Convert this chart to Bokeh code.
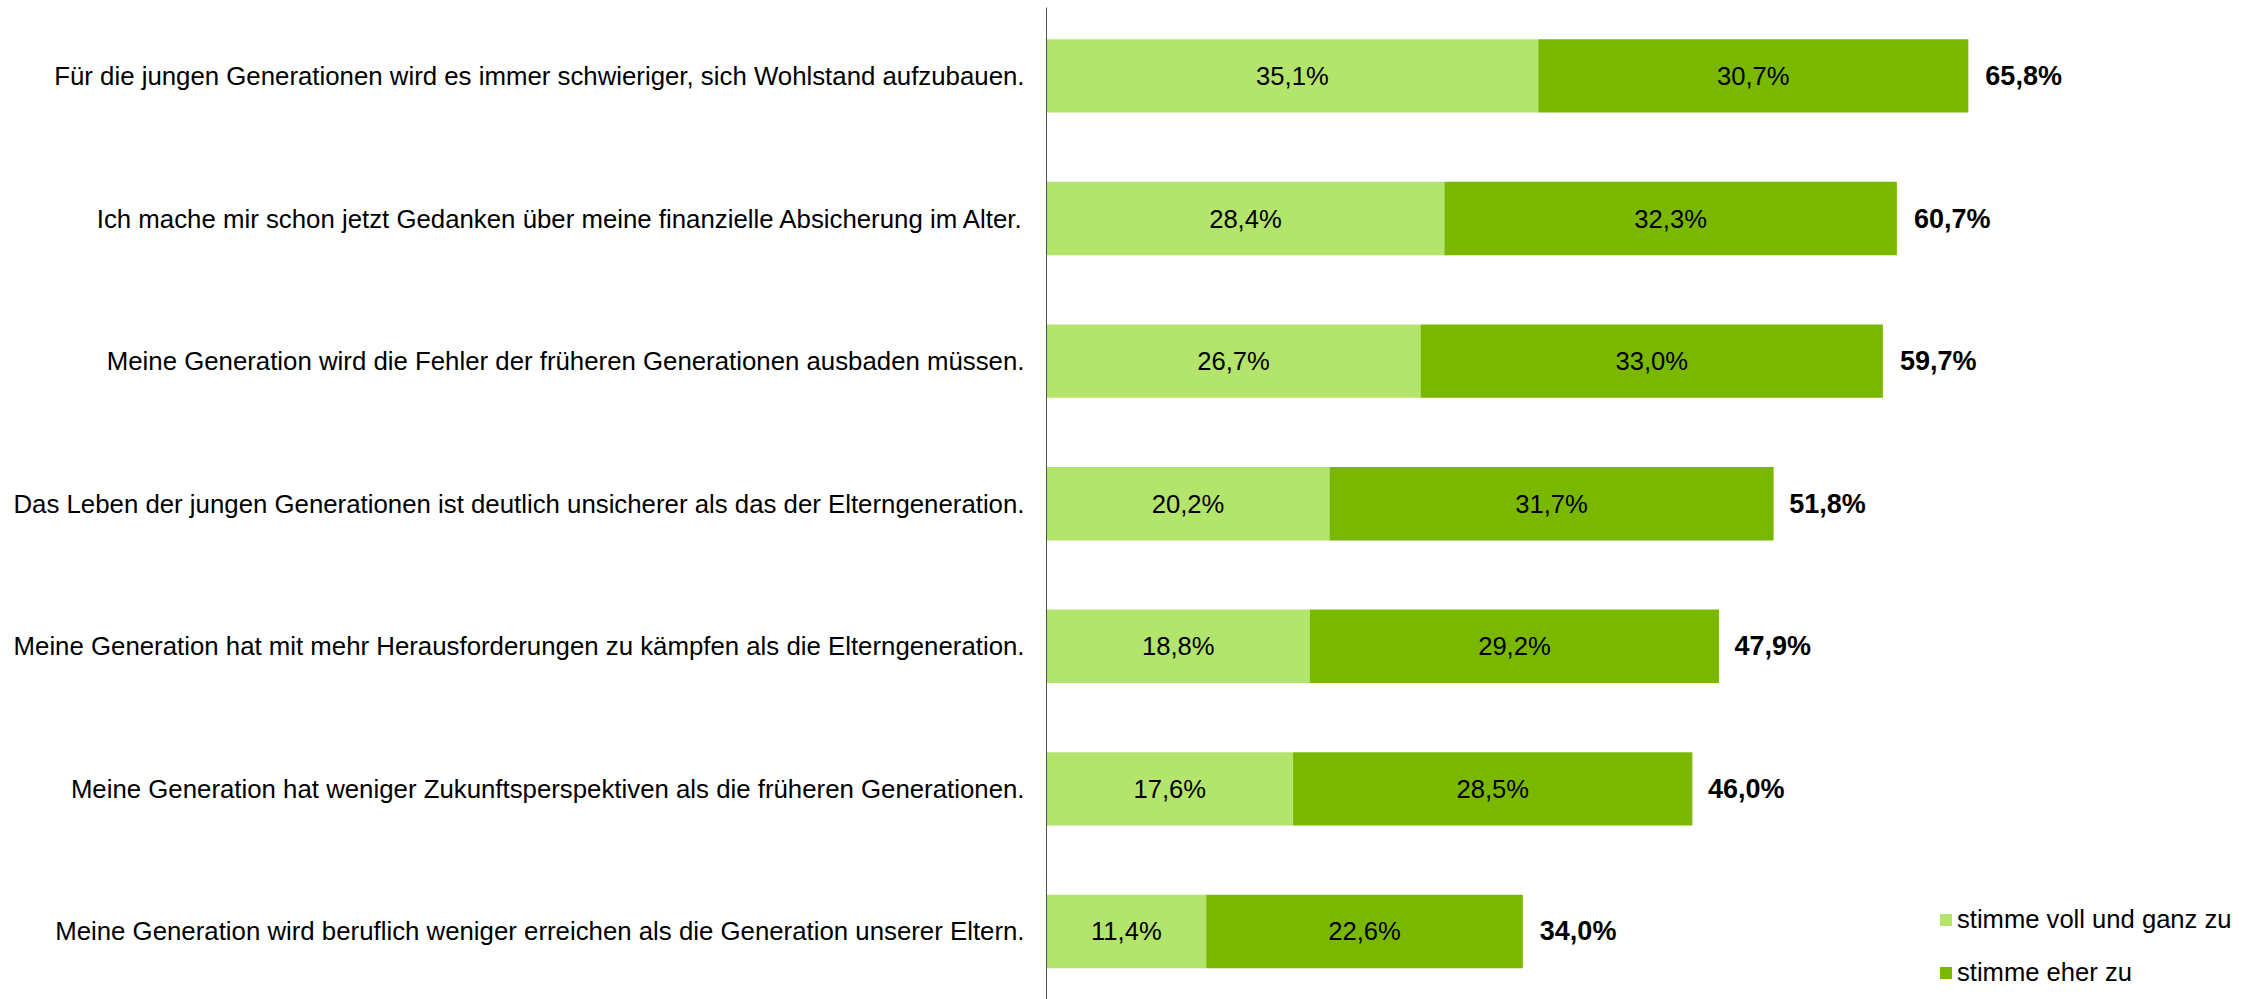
from bokeh.plotting import figure
from bokeh.models import ColumnDataSource, Range1d, FixedTicker, Legend, LegendItem
from bokeh.core.properties import value
from bokeh.embed import file_html
from bokeh.resources import INLINE

categories = [
    "Für die jungen Generationen wird es immer schwieriger, sich Wohlstand aufzubauen.",
    "Ich mache mir schon jetzt Gedanken über meine finanzielle Absicherung im Alter.",
    "Meine Generation wird die Fehler der früheren Generationen ausbaden müssen.",
    "Das Leben der jungen Generationen ist deutlich unsicherer als das der Elterngeneration.",
    "Meine Generation hat mit mehr Herausforderungen zu kämpfen als die Elterngeneration.",
    "Meine Generation hat weniger Zukunftsperspektiven als die früheren Generationen.",
    "Meine Generation wird beruflich weniger erreichen als die Generation unserer Eltern.",
]
voll_und_ganz = [35.1, 28.4, 26.7, 20.2, 18.8, 17.6, 11.4]
eher = [30.7, 32.3, 33.0, 31.7, 29.2, 28.5, 22.6]
totals = [65.8, 60.7, 59.7, 51.8, 47.9, 46.0, 34.0]
series_names = ["stimme voll und ganz zu", "stimme eher zu"]

LIGHT = "#B3E46B"
DARK = "#7AB800"
FONT = "Liberation Sans"
FS = "25.6px"

def fmt(v):
    return f"{v:.1f}".replace(".", ",") + "%"

n = len(categories)
ys = [n - 1 - i for i in range(n)]

src = ColumnDataSource(dict(
    y=ys,
    a_end=voll_und_ganz,
    b_end=[a + b for a, b in zip(voll_und_ganz, eher)],
    zero=[0] * n,
    a_mid=[a / 2 for a in voll_und_ganz],
    b_mid=[a + b / 2 for a, b in zip(voll_und_ganz, eher)],
    a_lbl=[fmt(v) for v in voll_und_ganz],
    b_lbl=[fmt(v) for v in eher],
    tot=totals,
    tot_lbl=[fmt(v) for v in totals],
))

W, H = 2243, 999
p = figure(width=W, height=H, output_backend="svg", toolbar_location=None,
           x_range=Range1d(0, 85.44), y_range=Range1d(-0.4769, 6.4797),
           min_border_left=1046, min_border_right=0, min_border_top=7, min_border_bottom=0)
p.outline_line_color = None
p.xgrid.visible = False
p.ygrid.visible = False
p.xaxis.visible = False

p.yaxis.ticker = FixedTicker(ticks=ys)
p.yaxis.major_label_overrides = {y: c for y, c in zip(ys, categories)}
p.yaxis.major_tick_line_color = None
p.yaxis.minor_tick_line_color = None
p.yaxis.major_tick_out = 0
p.yaxis.major_label_standoff = 22
p.yaxis.axis_line_color = "#505050"
p.yaxis.axis_line_width = 1
p.yaxis.major_label_text_font = FONT
p.yaxis.major_label_text_font_size = "25.8px"
p.yaxis.major_label_text_color = "#000000"

bh = 0.515
r1 = p.hbar(y="y", left="zero", right="a_end", height=bh, source=src, fill_color=LIGHT, line_color=None)
r2 = p.hbar(y="y", left="a_end", right="b_end", height=bh, source=src, fill_color=DARK, line_color=None)

p.text(x="a_mid", y="y", text="a_lbl", source=src, text_align="center", text_baseline="middle",
       text_font=value(FONT), text_font_size=FS, text_color="#000000")
p.text(x="b_mid", y="y", text="b_lbl", source=src, text_align="center", text_baseline="middle",
       text_font=value(FONT), text_font_size=FS, text_color="#000000")
p.text(x="tot", y="y", text="tot_lbl", source=src, text_align="left", text_baseline="middle",
       x_offset=17, text_font=value(FONT), text_font_size="27px", text_font_style="bold",
       text_color="#000000")

legend = Legend(items=[LegendItem(label=series_names[0], renderers=[r1]),
                       LegendItem(label=series_names[1], renderers=[r2])],
                location=(892, 2), orientation="vertical")
legend.glyph_width = 15
legend.glyph_height = 15
legend.label_height = 50
legend.spacing = 3
legend.padding = 0
legend.margin = 0
legend.label_standoff = 4
legend.border_line_color = None
legend.background_fill_alpha = 0
legend.label_text_font = FONT
legend.label_text_font_size = FS
legend.label_text_color = "#000000"
p.add_layout(legend, "center")

open("out.html", "w").write(file_html(p, INLINE))
